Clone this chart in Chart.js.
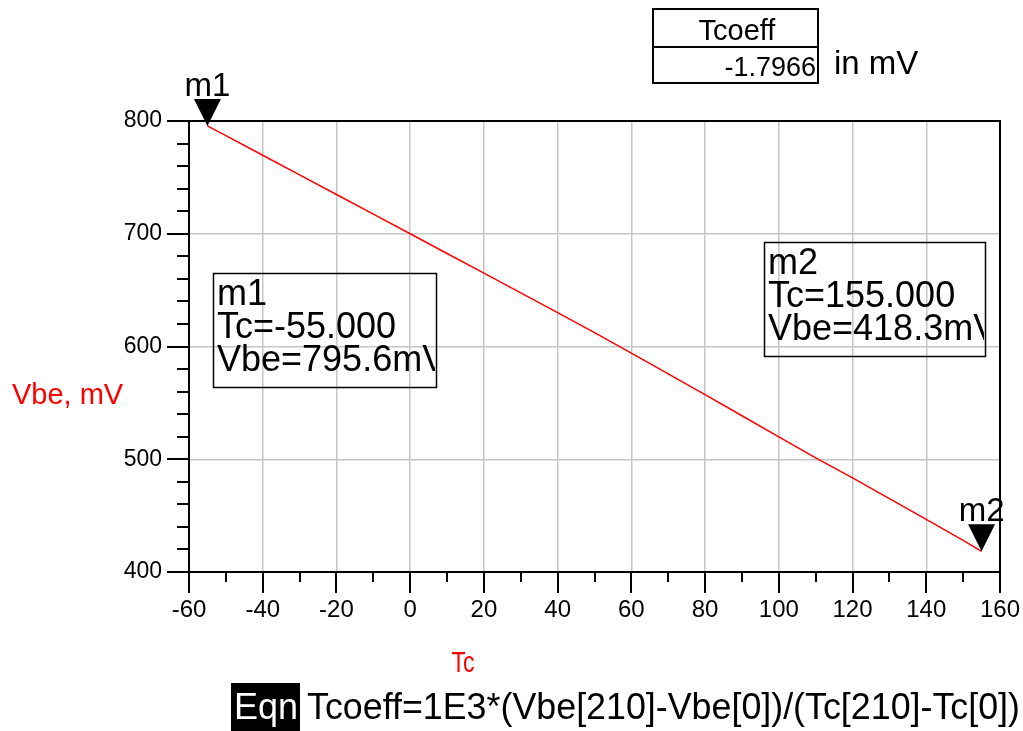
<!DOCTYPE html>
<html>
<head>
<meta charset="utf-8">
<title>Vbe vs Tc</title>
<script src="https://cdn.jsdelivr.net/npm/chart.js@4.4.1/dist/chart.umd.min.js"></script>
<style>
    html, body { margin: 0; padding: 0; background: #fff; }
    #wrap { width: 1023px; height: 731px; }
</style>
</head>
<body>
<div id="wrap"><canvas id="vbeChart" width="1023" height="731"></canvas></div>
<script>
// temperature sweep (deg C) and Vbe (mV)
var tcValues = [-55, -50, -40, -30, -20, -10, 0, 10, 20, 30, 40, 50, 60, 70, 80, 90, 100, 110, 120, 130, 140, 150, 155];
var vbeValues = [795.6, 787.0, 769.6, 752.2, 734.8, 717.4, 700.0, 682.5, 665.0, 647.5, 630.0, 612.3, 594.2, 575.8, 557.3, 538.6, 519.9, 501.2, 483.5, 465.0, 446.6, 428.0, 418.3];

// axis ranges / ticks
var xRange = [-60, 160];
var yRange = [400, 800];
var xMajorStep = 20, xMinorStep = 10;
var yMajorStep = 100, yMinorStep = 20;

// markers
var markerNames = ['m1', 'm2'];
var markerTc = [-55, 155];
var markerVbe = [795.6, 418.3];
var markerTcText = ['-55.000', '155.000'];
var markerVbeText = ['795.6mV', '418.3mV'];

// equation result
var tcoeffLabel = 'Tcoeff';
var tcoeffValue = '-1.7966';
var eqnText = 'Tcoeff=1E3*(Vbe[210]-Vbe[0])/(Tc[210]-Tc[0])';

var FONT = "'Liberation Sans', Arial, sans-serif";

document.addEventListener('DOMContentLoaded', function () {
    var ctx = document.getElementById('vbeChart').getContext('2d');

    var points = tcValues.map(function (t, i) {
        return { x: t, y: vbeValues[i] };
    });

    function gridColor(lo, hi) {
        return function (c) {
            if (c.tick && (c.tick.value === lo || c.tick.value === hi)) {
                return 'rgba(0,0,0,0)';
            }
            return '#c6c6c6';
        };
    }

    var decorPlugin = {
        id: 'adsDecor',
        afterDraw: function (chart) {
            var c = chart.ctx;
            var xs = chart.scales.x, ys = chart.scales.y;
            var area = chart.chartArea;
            var v, p, len, i;

            c.save();
            c.strokeStyle = '#000';
            c.lineWidth = 2;

            // top and right frame
            c.beginPath();
            c.moveTo(area.left, area.top);
            c.lineTo(area.right, area.top);
            c.lineTo(area.right, area.bottom);
            c.stroke();

            // y ticks (outside, left)
            c.beginPath();
            for (v = yRange[0]; v <= yRange[1]; v += yMinorStep) {
                p = Math.round(ys.getPixelForValue(v));
                len = (v % yMajorStep === 0) ? 22 : 12;
                c.moveTo(area.left - len, p);
                c.lineTo(area.left, p);
            }
            // x ticks (outside, below)
            for (v = xRange[0]; v <= xRange[1]; v += xMinorStep) {
                p = Math.round(xs.getPixelForValue(v));
                len = (v % xMajorStep === 0) ? 21 : 10;
                c.moveTo(p, area.bottom);
                c.lineTo(p, area.bottom + len);
            }
            c.stroke();

            // marker triangles + names
            c.fillStyle = '#000';
            c.font = '33px ' + FONT;
            c.textAlign = 'center';
            c.textBaseline = 'alphabetic';
            for (i = 0; i < markerNames.length; i++) {
                var px = xs.getPixelForValue(markerTc[i]);
                var py = ys.getPixelForValue(markerVbe[i]);
                c.beginPath();
                c.moveTo(px - 13.5, py - 27);
                c.lineTo(px + 13.5, py - 27);
                c.lineTo(px, py);
                c.closePath();
                c.fill();
                c.fillText(markerNames[i], px, py - 30);
            }

            // marker readout boxes (text is clipped by the box, like the original)
            var boxes = [
                { x: 213, y: 273, w: 223, h: 114 },
                { x: 764, y: 242, w: 221, h: 114 }
            ];
            c.textAlign = 'left';
            c.lineWidth = 1.5;
            c.font = '36px ' + FONT;
            for (i = 0; i < boxes.length; i++) {
                var b = boxes[i];
                c.strokeRect(b.x + 0.5, b.y + 0.5, b.w, b.h);
                c.save();
                c.beginPath();
                c.rect(b.x, b.y, b.w - 1, b.h);
                c.clip();
                c.fillText(markerNames[i], b.x + 4, b.y + 32);
                c.fillText('Tc=' + markerTcText[i], b.x + 4, b.y + 65);
                c.fillText('Vbe=' + markerVbeText[i], b.x + 4, b.y + 98);
                c.restore();
            }

            // Tcoeff table
            c.lineWidth = 2;
            c.strokeRect(653, 9, 165, 74);
            c.beginPath();
            c.moveTo(653, 47);
            c.lineTo(818, 47);
            c.stroke();
            c.font = '29px ' + FONT;
            c.textAlign = 'center';
            c.fillText(tcoeffLabel, 737, 40);
            c.textAlign = 'right';
            c.font = '27px ' + FONT;
            c.fillText(tcoeffValue, 816, 76);
            c.textAlign = 'left';
            c.font = '33px ' + FONT;
            c.fillText('in mV', 834, 74);

            // axis titles (red)
            c.fillStyle = '#ff0000';
            c.font = '29px ' + FONT;
            c.textAlign = 'left';
            c.fillText('Vbe, mV', 12, 404);
            c.textAlign = 'center';
            c.font = '30px ' + FONT;
            c.fillText('Tc', 463, 672, 23);

            // equation line
            c.fillStyle = '#000';
            c.fillRect(231, 683, 69, 48);
            c.fillStyle = '#fff';
            c.font = '36px ' + FONT;
            c.textAlign = 'left';
            c.fillText('Eqn', 234, 719, 64);
            c.fillStyle = '#000';
            c.fillText(eqnText, 307, 719, 713);

            c.restore();
        }
    };

    var vbeChart = new Chart(ctx, {
        type: 'line',
        data: {
            datasets: [{
                label: 'Vbe',
                data: points,
                borderColor: '#ff0000',
                borderWidth: 1.5,
                pointRadius: 0,
                tension: 0,
                fill: false
            }]
        },
        options: {
            responsive: false,
            animation: false,
            layout: { padding: { top: 121, right: 23, left: 0, bottom: 0 } },
            plugins: {
                legend: { display: false },
                tooltip: { enabled: false }
            },
            scales: {
                x: {
                    type: 'linear',
                    min: xRange[0],
                    max: xRange[1],
                    ticks: {
                        stepSize: xMajorStep,
                        color: '#000',
                        font: { size: 24, family: FONT },
                        padding: 24,
                        maxRotation: 0,
                        autoSkip: false
                    },
                    grid: { color: gridColor(xRange[0], xRange[1]), lineWidth: 1.5, drawTicks: false },
                    border: { color: '#000', width: 2 },
                    afterFit: function (s) {
                        s.height = 159;
                        s.paddingLeft = 0;
                        s.paddingRight = 0;
                    }
                },
                y: {
                    type: 'linear',
                    min: yRange[0],
                    max: yRange[1],
                    ticks: {
                        stepSize: yMajorStep,
                        color: '#000',
                        font: { size: 23, family: FONT },
                        padding: 27
                    },
                    grid: { color: gridColor(yRange[0], yRange[1]), lineWidth: 1.5, drawTicks: false },
                    border: { color: '#000', width: 2 },
                    afterFit: function (s) {
                        s.width = 189;
                        s.paddingTop = 0;
                        s.paddingBottom = 0;
                    }
                }
            }
        },
        plugins: [decorPlugin]
    });
});
</script>
</body>
</html>
